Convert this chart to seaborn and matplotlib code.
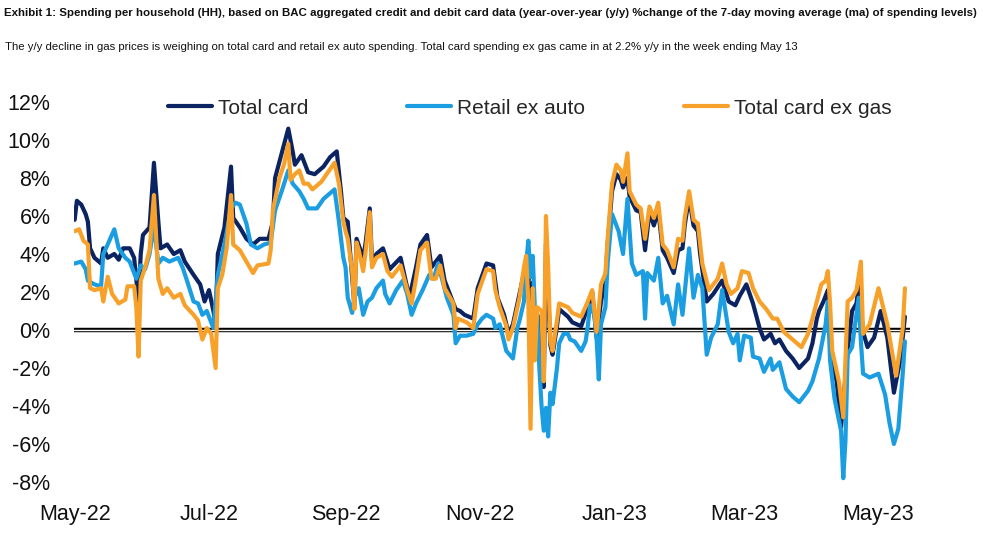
import numpy as np
import pandas as pd
import matplotlib
matplotlib.use("Agg")
import matplotlib.pyplot as plt
import matplotlib.dates as mdates
from matplotlib.lines import Line2D
import seaborn as sns

# ---- data (days since 2022-05-01, y/y % change) ----
start_date = "2022-05-01"

total_days = [0, 1, 3, 5, 6, 7, 9, 12, 13, 15, 18, 20, 22, 25, 27, 29, 30, 31, 34, 36, 38, 39, 42, 45, 48, 50,
              54, 57, 59, 61, 63, 64, 65, 68, 71, 72, 75, 78, 81, 84, 88, 90, 91, 94, 97, 99, 100, 103, 106, 109,
              113, 116, 119, 121, 122, 124, 125, 127, 128, 131, 132, 134, 135, 137, 140, 143, 148, 152, 155, 157,
              160, 162, 166, 168, 173, 175, 177, 181, 183, 187, 190, 192, 195, 197, 199, 202, 204, 205, 206, 207,
              208, 209, 210, 211, 212, 213, 214, 215, 216, 217, 219, 220, 224, 226, 230, 233, 235, 237, 239, 241,
              242, 244, 246, 248, 249, 251, 252, 255, 257, 259, 261, 263, 265, 267, 269, 272, 274, 276, 277, 279,
              281, 283, 284, 287, 290, 294, 297, 300, 302, 305, 308, 311, 313, 316, 318, 320, 323, 326, 329, 333,
              335, 337, 338, 340, 342, 344, 346, 348, 351, 353, 355, 356, 358, 360, 363, 366, 369, 372, 375, 377]
total_card = [5.8, 6.8, 6.6, 6.1, 5.7, 4.3, 3.8, 3.5, 4.3, 3.8, 4.0, 3.7, 4.3, 4.3, 3.8, 1.5, 4.0, 5.0, 5.4, 8.8,
              5.7, 4.3, 4.5, 4.0, 4.2, 3.6, 2.9, 2.4, 1.5, 2.1, 1.0, 0.3, 4.0, 5.4, 8.6, 5.9, 5.4, 4.8, 4.5, 4.8,
              4.8, 5.7, 8.0, 9.3, 10.6, 9.4, 8.7, 9.2, 8.3, 8.2, 8.6, 9.1, 9.4, 7.2, 5.9, 5.7, 4.2, 1.3, 4.8, 3.8,
              4.5, 6.4, 3.6, 4.0, 4.3, 3.2, 3.8, 1.7, 3.3, 4.5, 5.0, 3.3, 3.9, 2.6, 1.1, 1.0, 0.8, 0.6, 2.2, 3.5,
              3.4, 1.7, 0.8, -0.2, 0.3, 1.9, 3.0, 3.5, 3.6, -2.5, 2.5, -0.5, 0.8, 0.5, -0.5, -3.0, 4.5, 2.0, -0.8,
              -1.3, 0.2, 1.1, 0.7, 0.4, 0.2, 1.2, 2.0, -0.4, 1.5, 2.6, 4.5, 7.3, 8.2, 7.9, 7.5, 8.0, 7.0, 6.3,
              6.2, 4.2, 6.2, 5.5, 6.3, 4.2, 3.8, 3.0, 4.2, 4.3, 5.5, 7.0, 5.5, 5.2, 4.0, 1.5, 1.9, 2.6, 1.5, 1.3,
              1.8, 2.4, 1.4, 0.1, -0.5, -0.2, -0.7, -0.5, -1.1, -1.5, -2.0, -1.5, -0.7, 0.6, 1.0, 1.5, 2.1, -2.0,
              -2.7, -5.1, -1.1, 1.0, 1.4, 2.4, -0.1, -0.9, -0.4, 1.0, -0.4, -3.3, -1.5, 0.7]

retail_days = [0, 3, 5, 6, 9, 12, 13, 15, 18, 20, 23, 25, 28, 30, 32, 34, 36, 38, 40, 43, 47, 49, 51, 54, 56, 58,
               60, 63, 64, 65, 68, 71, 73, 75, 78, 80, 83, 86, 89, 91, 94, 97, 99, 102, 104, 106, 110, 113, 116,
               118, 120, 122, 123, 124, 126, 127, 129, 131, 133, 135, 137, 140, 141, 143, 146, 149, 151, 153, 155,
               158, 161, 163, 165, 167, 169, 172, 173, 175, 178, 181, 183, 185, 187, 190, 191, 193, 196, 199, 201,
               202, 204, 205, 206, 207, 208, 209, 210, 211, 212, 213, 214, 215, 216, 217, 219, 220, 222, 224, 225,
               227, 230, 232, 233, 234, 236, 237, 238, 239, 241, 242, 244, 245, 247, 249, 251, 253, 255, 258, 259,
               260, 263, 265, 267, 269, 272, 274, 276, 279, 281, 283, 285, 287, 289, 292, 294, 297, 299, 301, 302,
               304, 307, 308, 311, 313, 316, 317, 320, 323, 326, 329, 333, 335, 338, 341, 342, 343, 345, 348, 349,
               350, 351, 353, 356, 357, 358, 361, 365, 368, 370, 372, 374, 376, 377]
retail_ex_auto = [3.5, 3.6, 3.2, 2.6, 2.4, 2.3, 4.0, 4.5, 5.3, 4.3, 3.8, 3.6, 2.7, 3.4, 3.2, 4.0, 5.5, 3.5, 3.8,
                  3.6, 3.8, 3.3, 2.6, 1.5, 1.4, 0.8, 1.0, 0.1, 1.5, 2.9, 4.5, 6.4, 6.7, 6.6, 5.6, 4.5, 4.3, 4.5,
                  4.6, 6.3, 7.3, 8.4, 7.7, 7.3, 6.9, 6.4, 6.4, 6.9, 7.2, 7.4, 5.7, 3.8, 3.3, 1.7, 0.9, 1.7, 2.2,
                  0.8, 1.5, 1.7, 2.2, 2.6, 1.9, 1.4, 2.1, 2.6, 1.9, 0.8, 1.4, 2.1, 2.9, 2.7, 3.5, 2.6, 1.7, 0.8,
                  -0.7, -0.3, -0.3, -0.2, 0.3, 0.6, 0.8, 0.6, 0.1, 0.3, -1.1, -1.5, 0.1, 0.5, 1.5, 3.5, 4.7, 2.8,
                  3.9, 1.0, 0.8, -2.0, -4.0, -5.3, -4.1, -5.6, -3.3, -3.9, -2.0, -0.7, -0.2, -0.2, -0.5, -0.6,
                  -1.1, -0.6, 0.2, 1.3, 0.8, -0.5, -2.6, 0.3, 1.2, 3.5, 6.1, 5.8, 5.2, 4.0, 6.9, 3.5, 2.9, 3.1,
                  0.6, 3.0, 2.6, 3.8, 1.4, 1.8, 0.3, 2.4, 0.8, 4.3, 1.7, 2.9, 2.2, -1.3, -0.4, 0.3, 2.1, -0.1,
                  -0.7, -0.2, -1.6, -0.3, -0.4, -1.4, -1.5, -2.2, -1.5, -2.1, -1.7, -3.1, -3.5, -3.8, -3.2, -2.7,
                  -1.5, 0.3, 1.5, -1.6, -3.6, -5.3, -7.8, -5.8, -1.3, -0.9, 1.7, -0.6, -2.3, -2.5, -2.3, -3.4,
                  -4.9, -6.0, -5.2, -2.3, -0.6]

exgas_days = [0, 2, 4, 6, 7, 9, 12, 13, 15, 17, 20, 23, 24, 27, 28, 29, 30, 32, 34, 36, 38, 40, 42, 45, 48, 50,
              54, 56, 58, 60, 62, 64, 65, 67, 69, 71, 72, 75, 78, 81, 83, 88, 89, 90, 93, 95, 97, 98, 100, 102,
              104, 106, 108, 112, 115, 118, 120, 122, 123, 124, 126, 127, 128, 129, 131, 132, 134, 135, 137, 140,
              142, 144, 148, 151, 153, 155, 157, 160, 162, 164, 166, 168, 172, 173, 174, 178, 181, 183, 187, 190,
              191, 193, 196, 197, 199, 202, 204, 205, 206, 207, 208, 209, 210, 212, 213, 214, 215, 216, 217, 219,
              220, 224, 226, 230, 233, 235, 237, 239, 241, 242, 244, 246, 248, 249, 251, 252, 255, 257, 259, 261,
              263, 265, 267, 269, 272, 274, 276, 277, 279, 281, 283, 285, 288, 290, 292, 294, 296, 298, 301, 303,
              306, 308, 311, 314, 317, 319, 322, 325, 328, 330, 333, 335, 337, 339, 341, 342, 343, 344, 347, 349,
              351, 353, 355, 357, 358, 361, 365, 369, 373, 376, 377]
total_ex_gas = [5.2, 5.3, 4.7, 4.5, 2.2, 2.1, 2.2, 1.5, 2.8, 1.9, 1.4, 1.6, 2.3, 2.3, 1.2, -1.4, 2.6, 3.3, 4.2,
                7.1, 2.7, 1.9, 2.2, 1.7, 1.9, 1.3, 0.8, 0.5, -0.5, 0.1, -0.2, -2.0, 2.2, 2.9, 4.3, 7.1, 4.5, 4.2,
                3.6, 3.0, 3.4, 3.5, 4.2, 6.3, 8.0, 8.7, 9.8, 7.9, 8.2, 8.4, 7.7, 7.7, 7.4, 7.8, 8.3, 8.8, 7.7,
                5.7, 5.2, 4.8, 3.1, 1.1, 4.6, 4.2, 3.1, 4.0, 6.2, 3.3, 3.8, 4.0, 3.1, 2.8, 3.4, 2.1, 1.4, 2.7,
                4.2, 4.6, 2.7, 2.7, 3.4, 2.2, 1.4, 0.1, 0.6, 0.4, 0.1, 1.9, 3.2, 3.1, 2.1, 1.2, 0.2, -0.5, 0.1,
                1.7, 3.3, 3.9, 1.5, -5.2, 2.2, -1.6, 1.2, 1.0, -2.7, 6.0, 3.3, -0.6, -1.1, 0.5, 1.4, 1.2, 0.9,
                0.7, 1.5, 2.1, -0.1, 2.4, 3.0, 4.8, 7.7, 8.7, 8.4, 7.8, 9.3, 7.3, 6.6, 6.4, 4.8, 6.5, 5.9, 6.7,
                4.5, 4.2, 3.3, 4.8, 4.7, 5.9, 7.3, 5.8, 5.6, 3.5, 2.1, 2.4, 2.7, 3.5, 2.4, 1.9, 2.2, 3.1, 3.0,
                2.2, 1.5, 1.1, 0.6, 0.6, -0.1, -0.4, -0.7, -0.9, -0.2, 0.6, 1.5, 2.4, 2.6, 3.1, 1.4, -1.1, -2.7,
                -4.6, 1.5, 1.7, 2.1, 3.6, -0.2, 0.3, 2.2, 0.3, -2.4, 0.1, 2.2]

series_names = ["Total card", "Retail ex auto", "Total card ex gas"]
series_colors = ["#0b2461", "#1b9de2", "#f7a12b"]
y_ticks = [-8, -6, -4, -2, 0, 2, 4, 6, 8, 10, 12]

title_text = ("Exhibit 1: Spending per household (HH), based on BAC aggregated credit and debit card data "
              "(year-over-year (y/y) %change of the 7-day moving average (ma) of spending levels)")
subtitle_text = ("The y/y decline in gas prices is weighing on total card and retail ex auto spending. "
                 "Total card spending ex gas came in at 2.2% y/y in the week ending May 13")

# ---- build long table ----
t0 = pd.Timestamp(start_date)
frames = []
for name, d, v in [(series_names[0], total_days, total_card),
                   (series_names[1], retail_days, retail_ex_auto),
                   (series_names[2], exgas_days, total_ex_gas)]:
    frames.append(pd.DataFrame({"date": t0 + pd.to_timedelta(d, unit="D"), "value": v, "series": name}))
df = pd.concat(frames, ignore_index=True)

sns.set_theme(style="white")
plt.rcParams["font.family"] = ["Liberation Sans", "DejaVu Sans"]

fig = plt.figure(figsize=(9.83, 5.46), dpi=100)
ax = fig.add_axes([74 / 983, 1 - 482 / 546, (910 - 74) / 983, (482 - 102) / 546])

# zero double line
ax.axhline(0, color="black", lw=3.2, zorder=1)
ax.axhline(0, color="white", lw=1.0, zorder=1.5)

sns.lineplot(data=df, x="date", y="value", hue="series", hue_order=series_names,
             palette=series_colors, linewidth=3.0, ax=ax, legend=False, zorder=3, estimator=None)

ax.set_xlim(t0 - pd.Timedelta(days=0.3), t0 + pd.Timedelta(days=379.3))
ax.set_ylim(-8, 12)
ax.set_yticks(y_ticks)
ax.set_yticklabels([f"{t}%" for t in y_ticks])
ax.xaxis.set_major_locator(mdates.MonthLocator(bymonth=[1, 3, 5, 7, 9, 11]))
ax.xaxis.set_major_formatter(mdates.DateFormatter("%b-%y"))
ax.set_xlabel("")
ax.set_ylabel("")
for s in ax.spines.values():
    s.set_visible(False)
ax.tick_params(axis="both", length=0, labelsize=15.5, colors="#111111")
ax.tick_params(axis="x", pad=16)
ax.tick_params(axis="y", pad=17)
ax.grid(False)

# legend
handles = [Line2D([0], [0], color=c, lw=3.0) for c in series_colors]
fig.legend(handles, series_names, loc="center left", bbox_to_anchor=(168 / 983, 1 - 108 / 546),
           ncol=3, frameon=False, fontsize=15, handlelength=2.1, handletextpad=0.3, columnspacing=4.75,
           borderaxespad=0, borderpad=0)

fig.text(4 / 983, 1 - 13 / 546, title_text, fontsize=8.25, fontweight="bold", ha="left", va="center",
         color="#111111")
fig.text(5 / 983, 1 - 47 / 546, subtitle_text, fontsize=8.2, ha="left", va="center",
         color="#111111")

fig.savefig("out.png", dpi=100)
